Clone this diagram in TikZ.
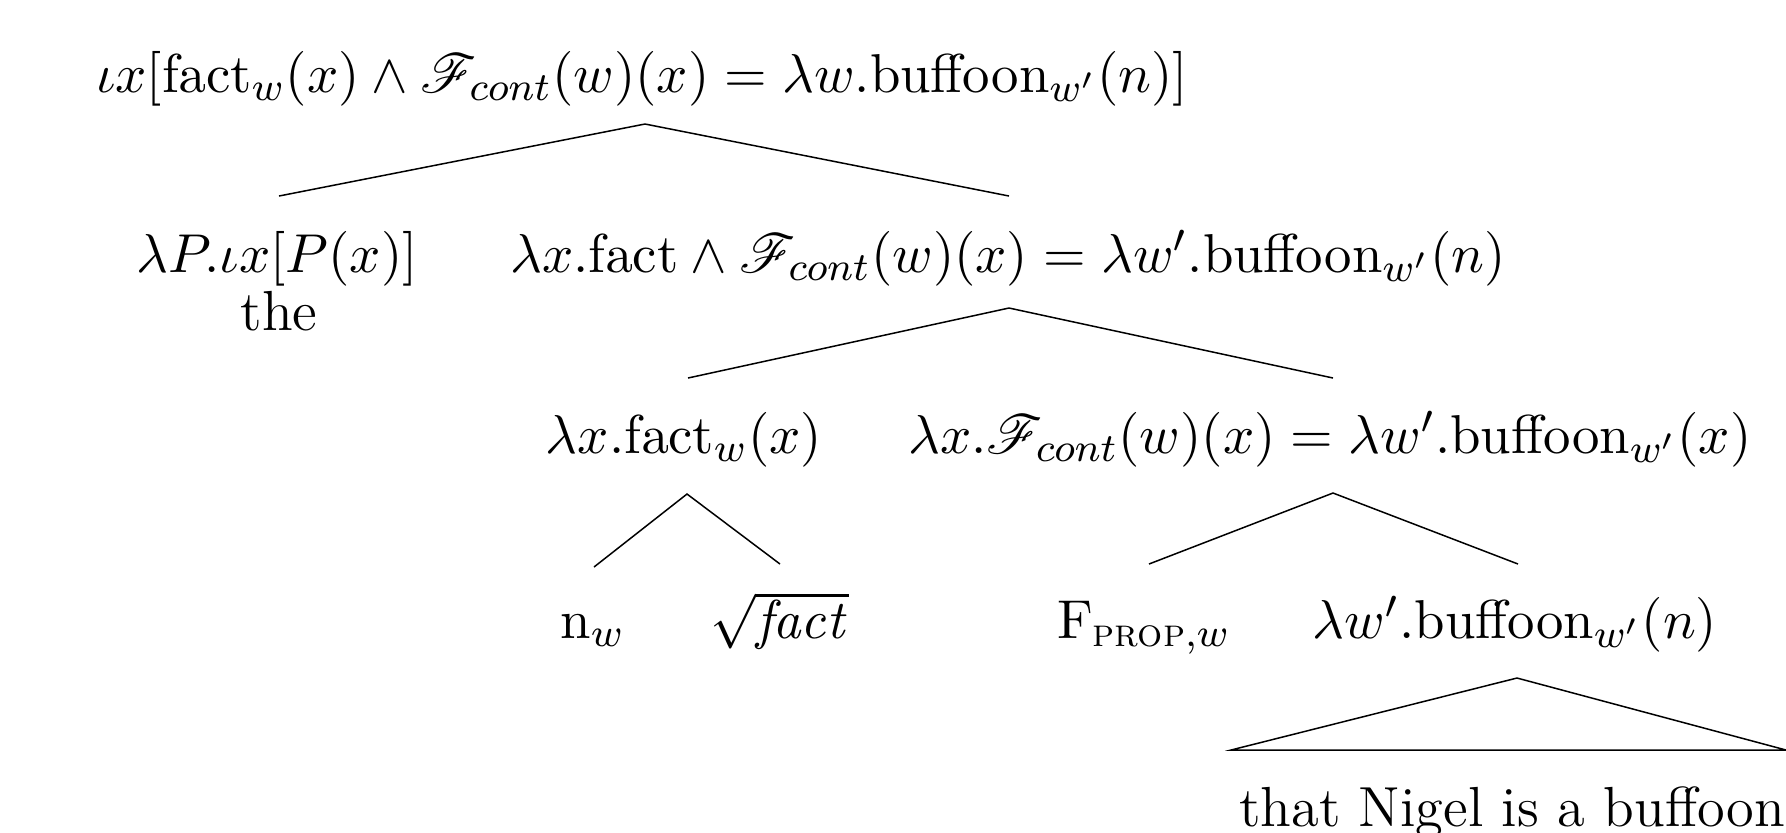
\documentclass[tikz,border=0pt]{standalone}
\usepackage{amsmath,amssymb}
\usepackage{mathrsfs}
\begin{document}
\begin{tikzpicture}[x=0.2pt,y=-0.2pt,
  lab/.style={inner sep=0pt,anchor=base,font=\fontsize{11.3}{13.5}\selectfont},
  branch/.style={draw=black,line width=0.3pt}]
\useasboundingbox (0,0) rectangle (1786,832);
% nodes
\node[lab] (root) at (642,92) {$\iota x[\mathrm{fact}_w(x)\wedge\mathscr{F}_{cont}(w)(x)=\lambda w.\mathrm{buffoon}_{w'}(n)]$};
\node[lab] (det) at (277,272) {$\lambda P.\iota x[P(x)]$};
\node[lab] (the) at (279,330) {the};
\node[lab] (nb) at (1008,272) {$\lambda x.\mathrm{fact}\wedge\mathscr{F}_{cont}(w)(x)=\lambda w'.\mathrm{buffoon}_{w'}(n)$};
\node[lab] (fx) at (684,453) {$\lambda x.\mathrm{fact}_w(x)$};
\node[lab] (fc) at (1330,453) {$\lambda x.\mathscr{F}_{cont}(w)(x)=\lambda w'.\mathrm{buffoon}_{w'}(x)$};
\node[lab] (nw) at (593,638) {$\mathrm{n}_w$};
\node[lab] (rt) at (780,638) {$\sqrt{\mathit{fact}}$};
\node[lab] (fp) at (1144,638) {$\mathrm{F}_{\text{\textsc{prop}},w}$};
\node[lab] (lw) at (1515,638) {$\lambda w'.\mathrm{buffoon}_{w'}(n)$};
\node[lab] (cp) at (1512,826) {that Nigel is a buffoon};
% branch points
\coordinate (rootB) at (645,124);
\coordinate (detT) at (279,196);
\coordinate (nbT) at (1009,196);
\coordinate (nbB) at (1009,308);
\coordinate (fxT) at (688,378);
\coordinate (fcT) at (1333,378);
\coordinate (fxB) at (687,494);
\coordinate (nwT) at (594,567);
\coordinate (rtT) at (780,564);
\coordinate (fcB) at (1333,493);
\coordinate (fpT) at (1149,564);
\coordinate (lwT) at (1518,564);
\coordinate (lwB) at (1517,678);
\coordinate (cpL) at (1231,750);
\coordinate (cpR) at (1786,750);
% connectors
\draw[branch] (detT) -- (rootB) -- (nbT);
\draw[branch] (fxT) -- (nbB) -- (fcT);
\draw[branch] (nwT) -- (fxB) -- (rtT);
\draw[branch] (fpT) -- (fcB) -- (lwT);
\draw[branch] (cpL) -- (lwB) -- (cpR) -- cycle;
\end{tikzpicture}
\end{document}
